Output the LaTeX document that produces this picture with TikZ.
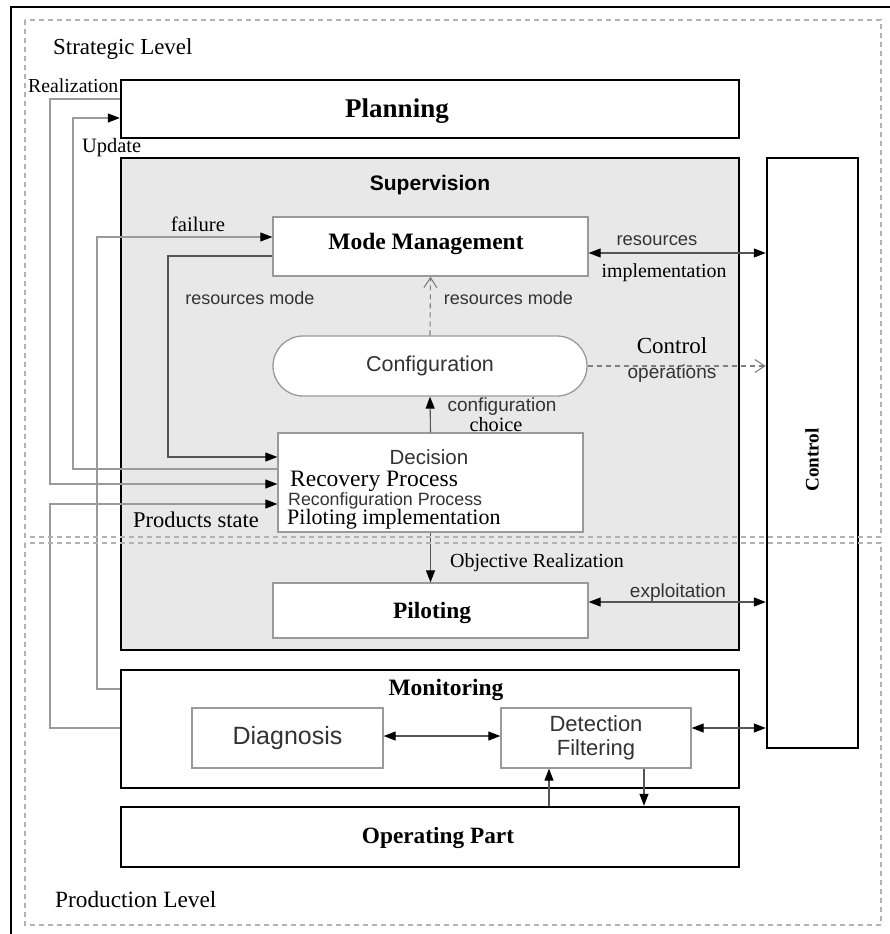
\documentclass[tikz,border=0pt]{standalone}
\usepackage{fontspec}
\setmainfont{Liberation Serif}
\setsansfont{Liberation Sans}
\usepackage{tikz}
\usetikzlibrary{arrows.meta}

\newcommand{\fsz}[1]{\fontsize{#1}{#1}\selectfont}
\definecolor{supfill}{HTML}{E8E8E8}
\definecolor{linegray}{HTML}{9A9A9A}
\definecolor{darkline}{HTML}{555555}
\definecolor{sanstext}{HTML}{333333}

\begin{document}
\begin{tikzpicture}[x=1pt,y=-1pt,>={Triangle[length=12pt,width=9pt,color=black]},
                    line join=miter]
  \tikzstyle{bigbox}=[draw=black,line width=2.4pt,inner sep=0pt]
  \tikzstyle{subbox}=[draw=linegray,line width=1.3pt,fill=white,inner sep=0pt]
  \tikzstyle{txt}=[inner sep=0pt]
  \tikzstyle{stxt}=[inner sep=0pt,text=sanstext,font=\sffamily]
  \tikzstyle{sideline}=[draw=linegray,line width=1.1pt]
  \tikzstyle{link}=[draw=darkline,line width=1.1pt]
  \tikzstyle{dashlink}=[draw=gray,line width=1.1pt,dash pattern=on 5pt off 4pt,
                        -{Straight Barb[length=10pt,width=13pt]}]
  \tikzstyle{zone}=[draw=gray!60,line width=1.3pt,dash pattern=on 5pt off 4pt]

  \useasboundingbox (0,0) rectangle (890,934);
  \draw[line width=2.5pt] (11,950) -- (11,7) -- (900,7);

  % boxes
  \node[bigbox,minimum width=618pt,minimum height=58pt] (plan) at (430,109) {};
  \node[bigbox,fill=supfill,minimum width=618pt,minimum height=492pt] (sup) at (430,404) {};
  \node[subbox,minimum width=315pt,minimum height=59pt] (mm) at (430.5,246.5) {};
  \node[subbox,rounded corners=30pt,minimum width=314pt,minimum height=60pt,
        font=\sffamily\fsz{21.5},text=sanstext] (conf) at (430,366) {Configuration};
  \node[subbox,minimum width=305pt,minimum height=99pt] (dec) at (430.5,482.5) {};
  \node[subbox,minimum width=315pt,minimum height=55pt] (pil) at (430.5,610.5) {};
  \node[bigbox,minimum width=618pt,minimum height=118pt] (mon) at (430,729) {};
  \node[subbox,minimum width=191pt,minimum height=60pt,
        font=\sffamily\fsz{25},text=sanstext] (diag) at (287.5,738) {Diagnosis};
  \node[subbox,minimum width=190pt,minimum height=60pt,align=center,
        font=\sffamily\fsz{22},text=sanstext] (det) at (596,738) {Detection\\[2pt]Filtering};
  \node[bigbox,minimum width=618pt,minimum height=60pt] (op) at (430,837) {};
  \node[bigbox,minimum width=91pt,minimum height=590pt] (ctrl) at (812.5,453) {};

  % titles
  \node[txt] (plant) at (397,111) {\fsz{27}\bfseries Planning};
  \node[stxt,text=black] (supt) at (430,185) {\fsz{21}\bfseries Supervision};
  \node[txt] (mmt) at (426,244) {\fsz{23.5}\bfseries Mode Management};
  \node[stxt] (dect) at (429,457) {\fsz{20.5}Decision};
  \node[txt,anchor=west] (dec1) at (290,481.5) {\fsz{23.5}Recovery Process};
  \node[stxt,anchor=west] (dec2) at (288,500.5) {\fsz{17.8}Reconfiguration Process};
  \node[txt,anchor=west] (dec3) at (287,519) {\fsz{22}Piloting implementation};
  \node[txt] (pilt) at (432,613) {\fsz{23.4}\bfseries Piloting};
  \node[txt] (mont) at (446,690) {\fsz{23.5}\bfseries Monitoring};
  \node[txt] (opt) at (438,838) {\fsz{23.3}\bfseries Operating Part};
  \node[txt,rotate=90] (ctrlt) at (812,460) {\fsz{19.2}\bfseries Control};
  \node[txt,anchor=west] (strat) at (53,49) {\fsz{22.9}Strategic Level};
  \node[txt,anchor=west] (prod) at (55,900) {\fsz{23.3}Production Level};

  % connectors on the left
  \draw[sideline,->] (plan.west |- 0,99) -| (50,484) -- (dec.west |- 0,484);
  \draw[sideline,->] (dec.west |- 0,469) -| (73,118) -- (plan.west |- 0,118);
  \draw[link,->] (mm.west |- 0,256) -| (168,457) -- (dec.west |- 0,457);
  \draw[sideline,->] (mon.west |- 0,689) -| (97,237) -- (mm.west |- 0,237);
  \draw[sideline,->] (mon.west |- 0,728) -| (50,504) -- (dec.west |- 0,504);
  \node[txt,anchor=west] (realiz) at (28,86) {\fsz{19.8}Realization};
  \node[txt,anchor=west] (upd) at (82,148) {\fsz{20.4}Update};
  \node[txt] (fail) at (198,224) {\fsz{20.7}failure};
  \node[stxt] (resl) at (250,298) {\fsz{18}resources mode};
  \node[txt] (prodst) at (196,520) {\fsz{22.5}Products state};

  % inner connectors
  \draw[dashlink] (conf.north) -- (mm.south);
  \draw[link,->] (dec.north) -- (conf.south);
  \draw[link,->] (dec.south) -- (pil.north);
  \draw[dashlink] (conf.east) -- (ctrl.west |- conf.east);
  \draw[link,<->] (mm.east |- 0,253) -- (ctrl.west |- 0,253);
  \draw[link,<->] (pil.east |- 0,602) -- (ctrl.west |- 0,602);
  \draw[link,<->] (diag.east |- 0,736) -- (det.west |- 0,736);
  \draw[link,<->] (det.east |- 0,728) -- (ctrl.west |- 0,728);
  \draw[link,->] (op.north -| 549,0) -- (det.south -| 549,0);
  \draw[link,->] (det.south -| 644,0) -- (op.north -| 644,0);
  \node[stxt] (resr) at (508.5,298) {\fsz{18}resources mode};
  \node[stxt] (confch) at (502,407) {\fsz{19}configuration};
  \node[txt] (choice) at (496,425) {\fsz{20.3}choice};
  \node[txt] (ctrlop) at (672,346) {\fsz{23}Control};
  \node[stxt] (oper) at (672,374) {\fsz{19}operations};
  \node[stxt] (res) at (657,241) {\fsz{18.4}resources};
  \node[txt] (impl) at (664,273) {\fsz{19.9}implementation};
  \node[txt] (objr) at (537,563) {\fsz{20}Objective Realization};
  \node[stxt] (expl) at (678,593) {\fsz{19}exploitation};

  % levels
  \draw[zone] (25,20) rectangle (881,537);
  \draw[zone] (25,543) rectangle (881,925);
\end{tikzpicture}
\end{document}
